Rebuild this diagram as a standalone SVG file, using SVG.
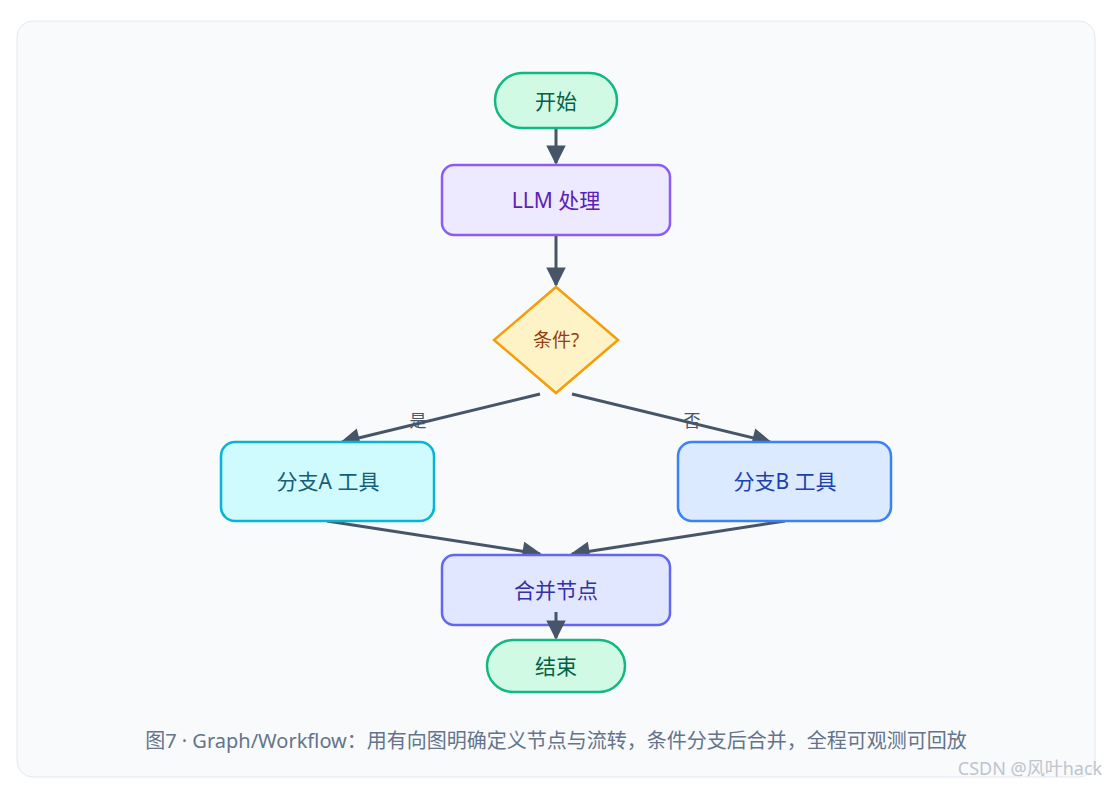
<svg xmlns="http://www.w3.org/2000/svg" width="1120" height="787" viewBox="0 0 1120 787">
<style>
text{font-family:"Noto Sans","Noto Sans CJK SC",sans-serif;text-anchor:middle;dominant-baseline:central}
.n{stroke-width:2.5}
.e{stroke:#475569;stroke-width:3;fill:none;marker-end:url(#ah)}
.t{font-size:21px}
.l{font-size:17px;fill:#475569}
</style>
<defs><marker id="ah" viewBox="0 0 10 10" refX="9" refY="5" markerWidth="7" markerHeight="6.5" orient="auto" markerUnits="strokeWidth"><path d="M0,0L10,5L0,10z" fill="#475569"/></marker></defs>
<rect x="0" y="0" width="1120" height="787" fill="#fff"/>
<rect x="17" y="21" width="1078" height="756" rx="16" fill="#f8fafc" stroke="#e2e8f0"/>
<g id="edges">
<line class="e" x1="556" y1="128" x2="556" y2="163"/>
<line class="e" x1="556" y1="235" x2="556" y2="285"/>
<line class="e" x1="540" y1="394" x2="342" y2="442"/>
<line class="e" x1="572" y1="394" x2="770" y2="442"/>
<line class="e" x1="327" y1="521" x2="540" y2="554"/>
<line class="e" x1="785" y1="521" x2="572" y2="554"/>
<text class="l" x="418" y="420">是</text>
<text class="l" x="692" y="420">否</text>
</g>
<g id="start"><rect class="n" x="495" y="73" width="122" height="55" rx="27.5" fill="#d1fae5" stroke="#10b981"/><text class="t" x="556" y="101" fill="#065f46">开始</text></g>
<g id="llm"><rect class="n" x="442" y="165" width="228" height="70" rx="12" fill="#ede9fe" stroke="#8b5cf6"/><text class="t" x="556" y="200" fill="#5b21b6">LLM 处理</text></g>
<g id="cond"><polygon class="n" points="556,287 618,340 556,393 494,340" fill="#fef3c7" stroke="#f59e0b"/><text x="556" y="340" font-size="19" fill="#92400e">条件?</text></g>
<g id="a"><rect class="n" x="221" y="442" width="213" height="79" rx="14" fill="#cffafe" stroke="#06b6d4"/><text class="t" x="328" y="481" fill="#155e75">分支A 工具</text></g>
<g id="b"><rect class="n" x="678" y="442" width="213" height="79" rx="14" fill="#dbeafe" stroke="#3b82f6"/><text class="t" x="785" y="481" fill="#1e40af">分支B 工具</text></g>
<g id="merge"><rect class="n" x="442" y="555" width="228" height="70" rx="12" fill="#e0e7ff" stroke="#6366f1"/><text class="t" x="556" y="590" fill="#3730a3">合并节点</text></g>
<line class="e" x1="556" y1="612" x2="556" y2="638"/>
<g id="end"><rect class="n" x="487" y="640" width="138" height="52" rx="26" fill="#d1fae5" stroke="#10b981"/><text class="t" x="556" y="666" fill="#065f46">结束</text></g>
<text x="556" y="740" font-size="20" fill="#64748b">图7 · Graph/Workflow：用有向图明确定义节点与流转，条件分支后合并，全程可观测可回放</text>
<text x="1030" y="768" font-size="18" fill="#c0c4cc">CSDN @风叶hack</text>
</svg>
